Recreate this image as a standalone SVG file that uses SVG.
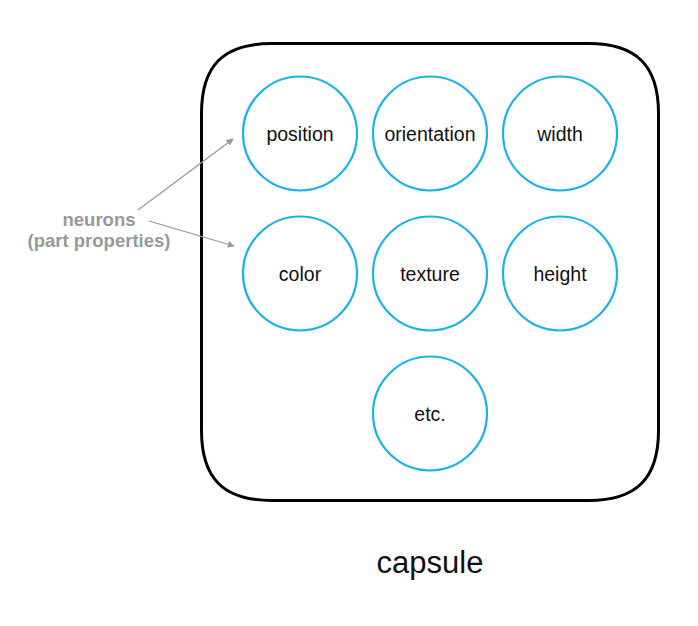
<svg xmlns="http://www.w3.org/2000/svg" width="698" height="626" viewBox="0 0 698 626">
<defs>
<style>
.node circle{fill:#fff;stroke:#1eb1e3;stroke-width:2.2}
.node text{font-family:"Liberation Sans",Arial,sans-serif;font-size:19.5px;fill:#111;text-anchor:middle}
.lbl{font-family:"Liberation Sans",Arial,sans-serif;font-weight:bold;font-size:18.5px;fill:#999;text-anchor:middle}
.conn line{stroke:#999;stroke-width:1.3;marker-end:url(#ah)}
</style>
<marker id="ah" viewBox="0 0 10 10" refX="9" refY="5" markerWidth="7" markerHeight="7" markerUnits="userSpaceOnUse" orient="auto"><path d="M0,0L10,5L0,10z" fill="#999"/></marker>
</defs>
<rect width="698" height="626" fill="#fff"/>
<g id="capsule">
<path d="M201.5,113.5 C201.5,65.5 223.5,43.5 271.5,43.5 L588.5,43.5 C636.5,43.5 658.5,65.5 658.5,113.5 L658.5,430.5 C658.5,478.5 636.5,500.5 588.5,500.5 L271.5,500.5 C223.5,500.5 201.5,478.5 201.5,430.5 Z" fill="none" stroke="#000" stroke-width="3"/>
<text x="430" y="573" font-family="'Liberation Sans',Arial,sans-serif" font-size="31" text-anchor="middle" fill="#111">capsule</text>
</g>
<g id="n-position" class="node"><circle cx="300" cy="133.5" r="57"/><text x="300" y="141">position</text></g>
<g id="n-orientation" class="node"><circle cx="430" cy="133.5" r="57"/><text x="430" y="141">orientation</text></g>
<g id="n-width" class="node"><circle cx="560" cy="133.5" r="57"/><text x="560" y="141">width</text></g>
<g id="n-color" class="node"><circle cx="300" cy="273.5" r="57"/><text x="300" y="281">color</text></g>
<g id="n-texture" class="node"><circle cx="430" cy="273.5" r="57"/><text x="430" y="281">texture</text></g>
<g id="n-height" class="node"><circle cx="560" cy="273.5" r="57"/><text x="560" y="281">height</text></g>
<g id="n-etc" class="node"><circle cx="430" cy="413.5" r="57"/><text x="430" y="421">etc.</text></g>
<g id="neurons-label">
<text class="lbl" x="99" y="226">neurons</text>
<text class="lbl" x="99" y="247">(part properties)</text>
</g>
<g id="connectors" class="conn">
<line x1="138" y1="210" x2="233" y2="139"/>
<line x1="149" y1="221" x2="234" y2="246"/>
</g>
</svg>
